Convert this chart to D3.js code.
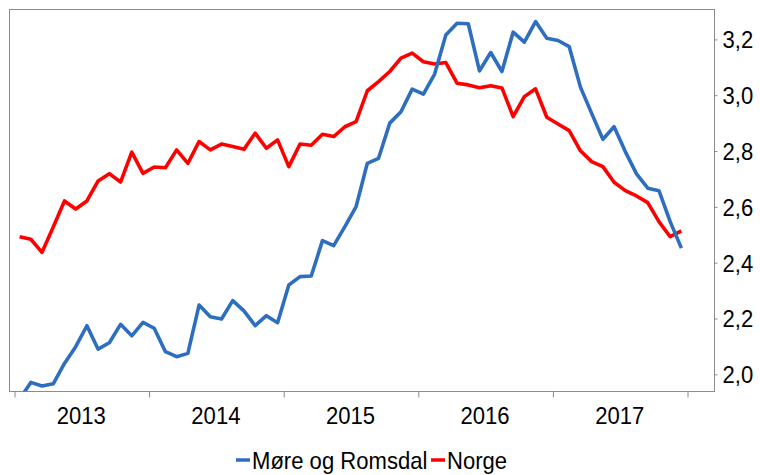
<!DOCTYPE html>
<html>
<head>
<meta charset="utf-8">
<script src="https://cdn.jsdelivr.net/npm/d3@7"></script>
<style>
  html, body { margin: 0; padding: 0; background: #fff; }
  svg { display: block; font-family: "Liberation Sans", Arial, sans-serif; }
</style>
</head>
<body>
<svg id="chart" width="760" height="475"></svg>
<script>
// ---- Data (monthly, Jan 2013 – Dec 2017) ----
const years = ["2013", "2014", "2015", "2016", "2017"];
const seriesNames = ["Møre og Romsdal", "Norge"];
const more = [1.911,1.971,1.958,1.966,2.039,2.099,2.174,2.090,2.113,2.179,
              2.138,2.186,2.165,2.081,2.063,2.075,2.248,2.206,2.198,2.264,
              2.227,2.174,2.210,2.185,2.320,2.350,2.352,2.479,2.461,2.529,
              2.601,2.756,2.774,2.900,2.941,3.022,3.004,3.076,3.216,3.258,
              3.256,3.087,3.153,3.085,3.226,3.190,3.264,3.204,3.196,3.174,
              3.029,2.935,2.842,2.887,2.798,2.718,2.667,2.658,2.547,2.452];
const norge = [2.493,2.484,2.437,2.528,2.621,2.592,2.621,2.693,2.719,2.689,
               2.796,2.720,2.743,2.740,2.804,2.756,2.834,2.804,2.825,2.816,
               2.806,2.864,2.810,2.840,2.744,2.825,2.821,2.860,2.852,2.887,
               2.905,3.016,3.049,3.085,3.133,3.151,3.120,3.112,3.117,3.043,
               3.037,3.027,3.034,3.026,2.923,2.995,3.023,2.921,2.897,2.873,
               2.801,2.762,2.744,2.688,2.658,2.639,2.615,2.547,2.493,2.514];
const yTicks = [2.0, 2.2, 2.4, 2.6, 2.8, 3.0, 3.2];

const colors = ["#2e6ebf", "#ff0000"];
const svg = d3.select("#chart");

// Plot frame
const frame = { left: 9.5, top: 9.5, right: 714.5, bottom: 391.5 };

// Scales
const x = d3.scaleLinear().domain([0, years.length * 12]).range([14, 687]);
const y = d3.scaleLinear().domain([2.0, 3.2]).range([374.3, 39.4]);

// Clip
svg.append("defs").append("clipPath").attr("id", "clip")
  .append("rect")
  .attr("x", frame.left).attr("y", frame.top)
  .attr("width", frame.right - frame.left).attr("height", frame.bottom - frame.top);

// Frame box
svg.append("rect")
  .attr("x", frame.left).attr("y", frame.top)
  .attr("width", frame.right - frame.left).attr("height", frame.bottom - frame.top)
  .attr("fill", "none").attr("stroke", "#8c8c8c").attr("stroke-width", 1);

// Bottom axis (year boundaries)
const xAxis = d3.axisBottom(x)
  .tickValues(d3.range(0, years.length * 12 + 1, 12))
  .tickFormat("")
  .tickSize(6)
  .tickSizeOuter(0);
const gx = svg.append("g").attr("transform", `translate(0,${frame.bottom})`).call(xAxis);
gx.select(".domain").remove();
gx.selectAll(".tick line").attr("stroke", "#8c8c8c").attr("transform", "translate(0.5,0)");

const FS = 24, SX = 0.92;

// Year labels
svg.append("g").selectAll("text")
  .data(years)
  .join("text")
  .attr("transform", (d, i) => `translate(${x(i * 12 + 6)},424) scale(${SX},1)`)
  .attr("text-anchor", "middle")
  .attr("font-size", FS)
  .attr("fill", "#000")
  .text(d => d);

// Right axis
const yAxis = d3.axisRight(y)
  .tickValues(yTicks)
  .tickFormat(d => d3.format(".1f")(d).replace(".", ","))
  .tickSize(3)
  .tickSizeOuter(0);
const gy = svg.append("g").attr("transform", `translate(${frame.right},0)`).call(yAxis);
gy.select(".domain").remove();
gy.selectAll(".tick line").attr("stroke", "#8c8c8c");
gy.selectAll(".tick text")
  .attr("x", 0).attr("dy", null).attr("dominant-baseline", null)
  .attr("transform", `translate(8,8.5) scale(${SX},1)`)
  .attr("font-size", FS)
  .attr("font-family", "'Liberation Sans', Arial, sans-serif")
  .attr("fill", "#000");

// Lines
const line = d3.line()
  .x((d, i) => x(i + 0.5))
  .y(d => y(d));

const g = svg.append("g").attr("clip-path", "url(#clip)");
[more, norge].forEach((s, k) => {
  g.append("path")
    .datum(s)
    .attr("d", line)
    .attr("fill", "none")
    .attr("stroke", colors[k])
    .attr("stroke-width", 3.6)
    .attr("stroke-linejoin", "round");
});
// Møre og Romsdal drawn on top (as at the crossing near the end)
g.select("path").raise();

// Legend
const legend = svg.append("g");
const legendItems = [
  { name: seriesNames[0], color: colors[0], x0: 236 },
  { name: seriesNames[1], color: colors[1], x0: 431 }
];
legendItems.forEach(it => {
  legend.append("line")
    .attr("x1", it.x0).attr("x2", it.x0 + 14)
    .attr("y1", 460).attr("y2", 460)
    .attr("stroke", it.color).attr("stroke-width", 3.5);
  legend.append("text")
    .attr("transform", `translate(${it.x0 + 16},468.5) scale(${SX},1)`)
    .attr("font-size", FS)
    .attr("fill", "#000")
    .text(it.name);
});
</script>
</body>
</html>
